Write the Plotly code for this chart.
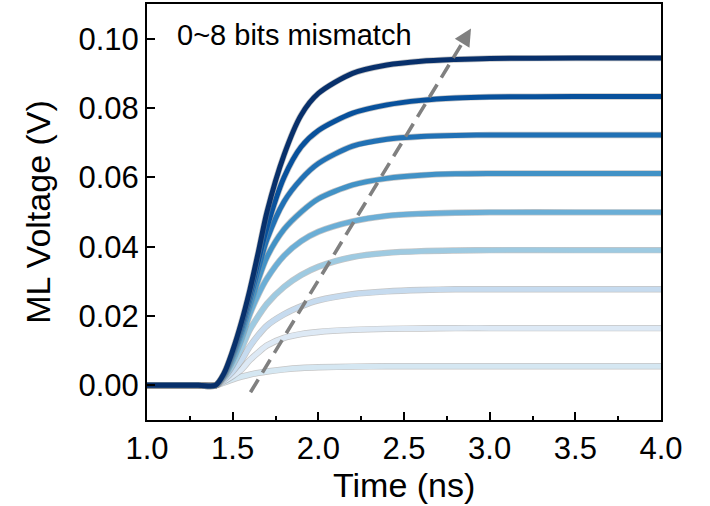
import plotly.graph_objects as go

# ---- data ----
time_ns = [1.0, 1.3, 1.40, 1.45, 1.5, 1.55, 1.6, 1.65, 1.7, 1.8, 1.9, 2.0, 2.2, 2.4, 2.6, 2.8, 3.0, 3.5, 4.0]

v0 = [0, 0, 0, 0.0008, 0.0017, 0.0025, 0.0031, 0.0036, 0.0040, 0.0046, 0.0050, 0.0052, 0.0054, 0.0055, 0.0055, 0.0055, 0.0055, 0.0055, 0.0055]
v1 = [0, 0, 0, 0.0012, 0.0027, 0.0045, 0.0073, 0.0095, 0.0115, 0.0137, 0.0148, 0.0154, 0.0160, 0.0163, 0.0164, 0.0165, 0.0165, 0.0165, 0.0165]
v2 = [0, 0, 0, 0.0017, 0.0040, 0.0072, 0.0112, 0.0145, 0.0172, 0.0205, 0.0228, 0.0245, 0.0263, 0.0271, 0.0275, 0.0277, 0.0277, 0.0277, 0.0277]
v3 = [0, 0, 0, 0.0022, 0.0058, 0.0105, 0.0160, 0.0200, 0.0235, 0.0284, 0.0318, 0.0342, 0.0370, 0.0382, 0.0387, 0.0389, 0.0390, 0.0390, 0.0390]
v4 = [0, 0, 0, 0.0026, 0.0072, 0.0132, 0.0205, 0.0262, 0.0308, 0.0374, 0.0416, 0.0443, 0.0473, 0.0489, 0.0495, 0.0498, 0.0499, 0.0499, 0.0499]
v5 = [0, 0, 0, 0.0029, 0.0083, 0.0148, 0.0228, 0.0305, 0.0370, 0.0450, 0.0500, 0.0538, 0.0578, 0.0597, 0.0606, 0.0610, 0.0611, 0.0611, 0.0611]
v6 = [0, 0, 0, 0.0031, 0.0090, 0.0160, 0.0245, 0.0335, 0.0420, 0.0530, 0.0595, 0.0640, 0.0690, 0.0710, 0.0718, 0.0721, 0.0722, 0.0722, 0.0722]
v7 = [0, 0, 0, 0.0033, 0.0095, 0.0170, 0.0260, 0.0360, 0.0455, 0.0600, 0.0688, 0.0735, 0.0785, 0.0809, 0.0822, 0.0829, 0.0832, 0.0833, 0.0833]
v8 = [0, 0, 0, 0.0035, 0.0100, 0.0180, 0.0275, 0.0385, 0.0500, 0.0665, 0.0780, 0.0842, 0.0900, 0.0924, 0.0935, 0.0940, 0.0943, 0.0944, 0.0944]

series = [v0, v1, v2, v3, v4, v5, v6, v7, v8]
series_names = ["0 bit", "1 bit", "2 bits", "3 bits", "4 bits", "5 bits", "6 bits", "7 bits", "8 bits"]
colors = ["#d5e7f2", "#dde9f5", "#c6dbef", "#9ecae1", "#6baed6", "#4292c6", "#2171b5", "#08519c", "#08306b"]

x_ticks = [1.0, 1.5, 2.0, 2.5, 3.0, 3.5, 4.0]
y_ticks = [0.00, 0.02, 0.04, 0.06, 0.08, 0.10]

arrow_start = (1.604, -0.002)
arrow_tip = (2.891, 0.1029)
arrow_neck = (2.847, 0.0993)

FONT = "Liberation Sans, Arial, sans-serif"

fig = go.Figure()

for name, vals, col in zip(series_names, series, colors):
    fig.add_trace(go.Scatter(
        x=time_ns, y=vals, mode="lines", showlegend=False, hoverinfo="skip",
        line=dict(color="rgba(140,140,140,0.5)", width=6.4, shape="spline", smoothing=0.8),
    ))
    fig.add_trace(go.Scatter(
        x=time_ns, y=vals, mode="lines", name=name, showlegend=False,
        line=dict(color=col, width=5, shape="spline", smoothing=0.8),
    ))

# dashed trend arrow
fig.add_trace(go.Scatter(
    x=[arrow_start[0], arrow_neck[0]], y=[arrow_start[1], arrow_neck[1]],
    mode="lines", showlegend=False, hoverinfo="skip",
    line=dict(color="#808080", width=3.6, dash="15px,8px"),
))
fig.add_annotation(
    x=arrow_tip[0], y=arrow_tip[1], ax=arrow_neck[0], ay=arrow_neck[1],
    xref="x", yref="y", axref="x", ayref="y", text="",
    showarrow=True, arrowhead=2, arrowsize=0.95, arrowwidth=3.6, arrowcolor="#808080",
    standoff=0, startstandoff=0,
)

fig.add_annotation(
    x=0.0544, y=0.925, xref="paper", yref="paper", xanchor="left", yanchor="middle",
    text="0~8 bits mismatch", showarrow=False,
    font=dict(family=FONT, size=29, color="#000000"),
)

# x-axis title placed as an annotation for exact vertical position
fig.add_annotation(
    x=0.5, y=-0.157, xref="paper", yref="paper", xanchor="center", yanchor="middle",
    text="Time (ns)", showarrow=False,
    font=dict(family=FONT, size=34, color="#000000"),
)

axis_common = dict(
    showline=True, linecolor="#000000", linewidth=2, mirror=True,
    ticks="inside", ticklen=8, tickwidth=2, tickcolor="#000000",
    showgrid=False, zeroline=False, automargin=False,
    tickfont=dict(family=FONT, size=31, color="#000000"),
)

fig.update_xaxes(
    range=[1.0, 4.0], tickvals=x_ticks, ticktext=[f"{v:.1f}" for v in x_ticks],
    minor=dict(ticks="inside", ticklen=4, tickwidth=2, tickcolor="#000000", dtick=0.25, showgrid=False),
    **axis_common,
)
fig.update_yaxes(
    range=[-0.01, 0.11], tickvals=y_ticks, ticktext=[f"{v:.2f}" for v in y_ticks],
    title=dict(text="ML Voltage (V)", font=dict(family=FONT, size=34, color="#000000"), standoff=18),
    **axis_common,
)

fig.update_layout(
    width=710, height=506,
    margin=dict(l=147, r=49, t=4, b=86),
    paper_bgcolor="#ffffff", plot_bgcolor="#ffffff",
    showlegend=False,
)

fig.write_html(
    "out.html",
    config={"displayModeBar": False},
    post_script="document.body.style.margin='0';document.body.style.padding='0';",
)
